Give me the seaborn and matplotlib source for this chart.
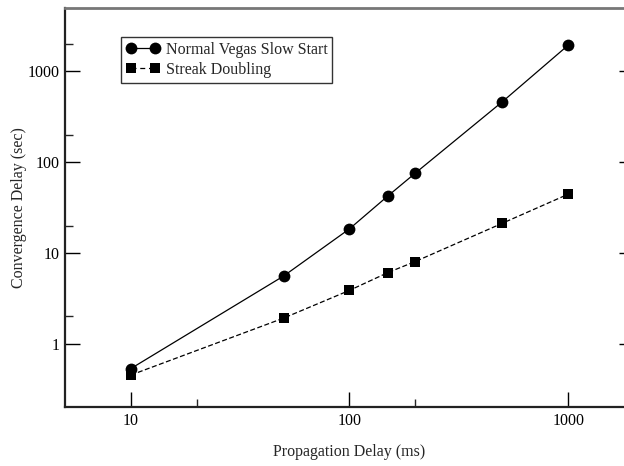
import matplotlib
matplotlib.use("Agg")
import matplotlib.pyplot as plt
import matplotlib.ticker as mticker
import seaborn as sns
import pandas as pd

# Propagation delay (ms) and convergence delay (sec) per scheme
prop_delay = [10, 50, 100, 150, 200, 500, 1000]
normal_vegas = [0.53, 5.56, 18.4, 42.5, 75.7, 463, 1945]
streak_doubling = [0.45, 1.91, 3.86, 6.07, 8.03, 21.2, 44.3]
series_names = ["Normal Vegas Slow Start", "Streak Doubling"]

x_ticks = [10, 100, 1000]
y_ticks = [1, 10, 100, 1000]

FS = 11.5

sns.set_style("ticks")
plt.rcParams["font.family"] = ["Liberation Serif", "DejaVu Serif"]
plt.rcParams["font.size"] = FS

df = pd.DataFrame({
    "delay": prop_delay * 2,
    "conv": normal_vegas + streak_doubling,
    "scheme": [series_names[0]] * len(prop_delay) + [series_names[1]] * len(prop_delay),
})

fig = plt.figure(figsize=(6.24, 4.66), dpi=100)
ax = fig.add_axes([65 / 624, 1 - 407 / 466, (634 - 65) / 624, (407 - 8) / 466])

sns.lineplot(
    data=df, x="delay", y="conv", hue="scheme", style="scheme",
    palette=["black", "black"], markers=["o", "s"],
    dashes=[(None, None), (4, 2)], markersize=8.5, linewidth=0.9,
    markeredgewidth=0, ax=ax, legend=False, sort=False,
)
# squares slightly smaller than the circles
ax.lines[1].set_markersize(7.3)

ax.set_xscale("log")
ax.set_yscale("log")
ax.set_xlim(5, 2000)
ax.set_ylim(0.2, 5000)

ax.xaxis.set_major_locator(mticker.FixedLocator(x_ticks))
ax.yaxis.set_major_locator(mticker.FixedLocator(y_ticks))
ax.xaxis.set_minor_locator(mticker.FixedLocator([20, 200]))
ax.yaxis.set_minor_locator(mticker.FixedLocator([2, 20, 200, 2000]))
ax.xaxis.set_major_formatter(mticker.FuncFormatter(lambda v, p: f"{v:g}"))
ax.yaxis.set_major_formatter(mticker.FuncFormatter(lambda v, p: f"{v:g}"))
ax.xaxis.set_minor_formatter(mticker.NullFormatter())
ax.yaxis.set_minor_formatter(mticker.NullFormatter())

ax.tick_params(axis="both", which="major", direction="in", length=11, width=1.0,
               colors="black", labelsize=FS)
ax.tick_params(axis="x", which="major", pad=4)
ax.tick_params(axis="y", which="major", pad=4)
ax.tick_params(axis="both", which="minor", direction="in", length=5.5, width=1.0)
ax.tick_params(axis="y", which="both", right=True)

for side in ["left", "bottom", "right"]:
    ax.spines[side].set_color("#222222")
    ax.spines[side].set_linewidth(1.6)
ax.spines["top"].set_color("#777777")
ax.spines["top"].set_linewidth(2.0)
ax.spines["top"].set_visible(True)
ax.spines["right"].set_visible(True)

ax.set_xlabel("Propagation Delay (ms)", fontsize=FS, labelpad=11)
ax.set_ylabel("Convergence Delay (sec)", fontsize=FS, labelpad=0)

handles = [
    plt.Line2D([], [], color="black", marker="o", markersize=8.5, linewidth=0.9,
               markeredgewidth=0),
    plt.Line2D([], [], color="black", marker="s", markersize=7.3, linewidth=0.9,
               linestyle=(0, (4, 3)), markeredgewidth=0),
]
leg = ax.legend(handles, series_names, loc="upper left",
                bbox_to_anchor=((121 - 65) / 569, 1 - (37 - 8) / 399),
                frameon=True, fancybox=False, edgecolor="black",
                handlelength=2.1, handletextpad=0.4, borderpad=0.3,
                labelspacing=0.25, fontsize=FS, borderaxespad=0, numpoints=2)
leg.get_frame().set_linewidth(1.0)

fig.savefig("out.png", dpi=100)
